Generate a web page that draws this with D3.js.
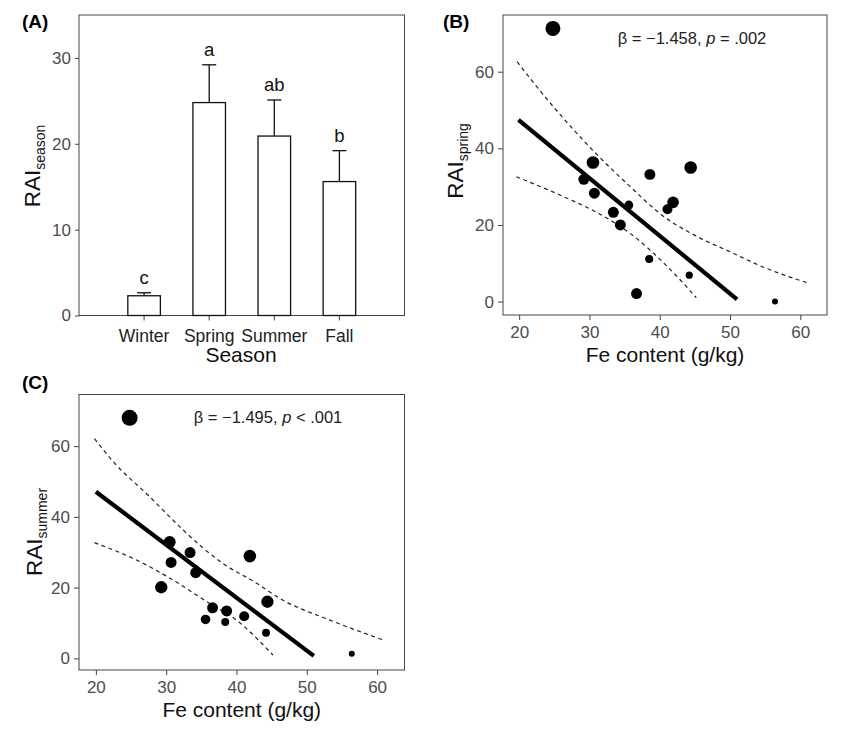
<!DOCTYPE html>
<html><head><meta charset="utf-8">
<script src="https://cdn.jsdelivr.net/npm/d3@7"></script>
<style>
body{margin:0;background:#fff;}
svg{font-family:"Liberation Sans",Arial,sans-serif;}
</style></head><body>
<svg id="chart" width="850" height="733"></svg>
<script>
// ---------- Data ----------
// Panel A: mean RAI per season with SE
const seasons = ["Winter","Spring","Summer","Fall"];
const raiMean = [2.3, 24.8, 20.9, 15.6];
const raiUpper = [2.65, 29.2, 25.1, 19.2];
const groupLetters = ["c","a","ab","b"];
const yTicksA = [0,10,20,30];

// Panel B: spring RAI vs Fe content
const feB   = [24.8, 30.5, 29.2, 30.7, 33.4, 34.4, 35.6, 38.6, 41.1, 41.9, 44.4, 38.5, 44.2, 36.7, 56.4];
const raiB  = [71.3, 36.3, 31.9, 28.3, 23.3, 20.0, 25.2, 33.2, 24.1, 25.9, 35.0, 11.1, 6.9, 2.1, 0.0];
const sizeB = [56, 40, 30, 30, 30, 30, 20, 30, 25, 34, 40, 16, 13, 30, 9];
const fitB  = [[19.9, 47.4],[51.0, 0.6]];
const upperB = [[19.7,62.6],[24.8,51.0],[31.0,38.5],[35.8,30.0],[40.5,22.3],[45.3,17.0],[50.0,13.0],[55.0,8.8],[61.2,4.8]];
const lowerB = [[19.6,32.6],[26.3,27.4],[31.0,23.3],[35.8,17.8],[40.5,10.2],[43.0,5.5],[45.2,1.0]];
const statB = {beta:"β = −1.458, ", p:"p", rest:" = .002"};

// Panel C: summer RAI vs Fe content
const feC   = [24.8, 30.5, 33.4, 30.7, 34.2, 29.3, 41.9, 44.4, 36.6, 38.6, 35.6, 38.4, 41.1, 44.2, 56.4];
const raiC  = [68.0, 32.9, 29.9, 27.1, 24.2, 20.1, 28.9, 16.0, 14.3, 13.4, 11.0, 10.3, 11.9, 7.2, 1.3];
const sizeC = [64, 36, 30, 30, 30, 38, 40, 38, 30, 30, 23, 16, 25, 16, 9];
const fitC  = [[20.0, 47.1],[51.0, 0.7]];
const upperC = [[19.8,62.1],[22.7,55.1],[27.45,46.1],[32.3,36.5],[35.3,31.1],[38.1,26.8],[42.9,21.2],[46.2,16.9],[53.3,10.8],[61.0,5.1]];
const lowerC = [[19.8,32.7],[26.3,27.3],[31.0,22.1],[35.8,16.0],[40.0,10.8],[45.2,0.9]];
const statC = {beta:"β = −1.495, ", p:"p", rest:" < .001"};

const xTicksFe = [20,30,40,50,60];
const yTicksRAI = [0,20,40,60];

// ---------- Drawing ----------
const svg = d3.select("#chart");
const tickColor = "#4d4d4d";
const boxColor = "#444";
const FF = "Liberation Sans, Arial, sans-serif";

function yTitle(g, x, y, sub) {
  const t = g.append("text")
    .attr("transform", `translate(${x},${y}) rotate(-90)`)
    .attr("text-anchor","middle")
    .attr("font-size", 22.5).attr("fill","#111");
  t.append("tspan").text("RAI");
  t.append("tspan").attr("font-size", 14).attr("dy", 5).text(sub);
}

// ----- Panel A -----
(function(){
  const L=79, R=404.5, T=15, B=315.5;
  const x = d3.scaleBand().domain(seasons).range([L,R]).paddingInner(0.5).paddingOuter(0.75);
  const y = d3.scaleLinear().domain([0,35]).range([B,T]);
  const g = svg.append("g");
  g.append("rect").attr("x",L).attr("y",T).attr("width",R-L).attr("height",B-T)
    .attr("fill","none").attr("stroke",boxColor).attr("stroke-width",1);
  const ya = g.append("g").attr("transform",`translate(${L},0)`)
    .call(d3.axisLeft(y).tickValues(yTicksA).tickSize(4).tickPadding(4).tickSizeOuter(0));
  ya.select(".domain").remove();
  ya.selectAll("text").attr("font-size",17).attr("fill",tickColor).attr("font-family",FF);
  ya.selectAll("line").attr("stroke",boxColor);
  const xa = g.append("g").attr("transform",`translate(0,${B})`)
    .call(d3.axisBottom(x).tickSize(5).tickPadding(9).tickSizeOuter(0));
  xa.select(".domain").remove();
  xa.selectAll("text").attr("font-size",17.5).attr("fill","#222").attr("font-family",FF);
  xa.selectAll("line").attr("stroke",boxColor);

  const data = seasons.map((s,i)=>({s, m:raiMean[i], u:raiUpper[i], l:groupLetters[i]}));
  g.selectAll("rect.bar").data(data).enter().append("rect").attr("class","bar")
    .attr("x",d=>x(d.s)).attr("width",x.bandwidth())
    .attr("y",d=>y(d.m)).attr("height",d=>y(0)-y(d.m))
    .attr("fill","#fff").attr("stroke","#111").attr("stroke-width",1.3);
  const cx = d=>x(d.s)+x.bandwidth()/2;
  g.selectAll("line.err").data(data).enter().append("line")
    .attr("x1",cx).attr("x2",cx).attr("y1",d=>y(d.m)).attr("y2",d=>y(d.u))
    .attr("stroke","#111").attr("stroke-width",1.3);
  g.selectAll("line.cap").data(data).enter().append("line")
    .attr("x1",d=>cx(d)-7).attr("x2",d=>cx(d)+7).attr("y1",d=>y(d.u)).attr("y2",d=>y(d.u))
    .attr("stroke","#111").attr("stroke-width",1.3);
  g.selectAll("text.let").data(data).enter().append("text")
    .attr("x",cx).attr("y",d=>y(d.u)-9).attr("text-anchor","middle")
    .attr("font-size",18.5).attr("fill","#111").text(d=>d.l);
  g.append("text").attr("x",241).attr("y",362).attr("text-anchor","middle")
    .attr("font-size",21).attr("fill","#111").text("Season");
  yTitle(g, 40, 166, "season");
  g.append("text").attr("x",22).attr("y",28).attr("font-size",19).attr("font-weight","bold").text("(A)");
})();

function scatterPanel(opts){
  const {L,R,T,B,xd,yd,fe,rai,size,fit,upper,lower,stat,statX,statY,label,labelX,labelY,sub,titleX,titleY,xTitleY} = opts;
  const x = d3.scaleLinear().domain(xd).range([L,R]);
  const y = d3.scaleLinear().domain(yd).range([B,T]);
  const r = d3.scaleSqrt().domain([0,64]).range([0,8]);
  const g = svg.append("g");
  g.append("rect").attr("x",L).attr("y",T).attr("width",R-L).attr("height",B-T)
    .attr("fill","none").attr("stroke",boxColor).attr("stroke-width",1);
  const ya = g.append("g").attr("transform",`translate(${L},0)`)
    .call(d3.axisLeft(y).tickValues(yTicksRAI).tickSize(5).tickPadding(4).tickSizeOuter(0));
  ya.select(".domain").remove();
  ya.selectAll("text").attr("font-size",17).attr("fill",tickColor).attr("font-family",FF);
  ya.selectAll("line").attr("stroke",boxColor);
  const xa = g.append("g").attr("transform",`translate(0,${B})`)
    .call(d3.axisBottom(x).tickValues(xTicksFe).tickSize(5).tickPadding(6).tickSizeOuter(0));
  xa.select(".domain").remove();
  xa.selectAll("text").attr("font-size",17).attr("fill",tickColor).attr("font-family",FF);
  xa.selectAll("line").attr("stroke",boxColor);

  const line = d3.line().x(d=>x(d[0])).y(d=>y(d[1])).curve(d3.curveMonotoneX);
  g.append("path").attr("d",line(upper)).attr("fill","none").attr("stroke","#222").attr("stroke-width",1.2).attr("stroke-dasharray","4,3.5");
  g.append("path").attr("d",line(lower)).attr("fill","none").attr("stroke","#222").attr("stroke-width",1.2).attr("stroke-dasharray","4,3.5");
  g.append("path").attr("d",d3.line().x(d=>x(d[0])).y(d=>y(d[1]))(fit)).attr("fill","none").attr("stroke","#000").attr("stroke-width",4.2);

  const pts = fe.map((f,i)=>({f, v:rai[i], s:size[i]}));
  g.selectAll("circle").data(pts).enter().append("circle")
    .attr("cx",d=>x(d.f)).attr("cy",d=>y(d.v)).attr("r",d=>r(d.s)).attr("fill","#000");

  const st = g.append("text").attr("x",statX).attr("y",statY).attr("text-anchor","middle")
    .attr("font-size",16.5).attr("fill","#222");
  st.append("tspan").text(stat.beta);
  st.append("tspan").attr("font-style","italic").text(stat.p);
  st.append("tspan").text(stat.rest);

  g.append("text").attr("x",(L+R)/2).attr("y",xTitleY).attr("text-anchor","middle")
    .attr("font-size",21).attr("fill","#111").text("Fe content (g/kg)");
  yTitle(g, titleX, titleY, sub);
  g.append("text").attr("x",labelX).attr("y",labelY).attr("font-size",19).attr("font-weight","bold").text(label);
}

scatterPanel({L:503,R:827,T:15,B:315,xd:[17.7,63.8],yd:[-3.5,74.8],
  fe:feB,rai:raiB,size:sizeB,fit:fitB,upper:upperB,lower:lowerB,stat:statB,
  statX:692,statY:44,label:"(B)",labelX:443,labelY:28,sub:"spring",titleX:463,titleY:161,xTitleY:362});

scatterPanel({L:79,R:404.5,T:394.5,B:670,xd:[17.6,63.9],yd:[-3.3,74.6],
  fe:feC,rai:raiC,size:sizeC,fit:fitC,upper:upperC,lower:lowerC,stat:statC,
  statX:268,statY:423,label:"(C)",labelX:22,labelY:389,sub:"summer",titleX:42,titleY:532,xTitleY:717});
</script>
</body></html>
